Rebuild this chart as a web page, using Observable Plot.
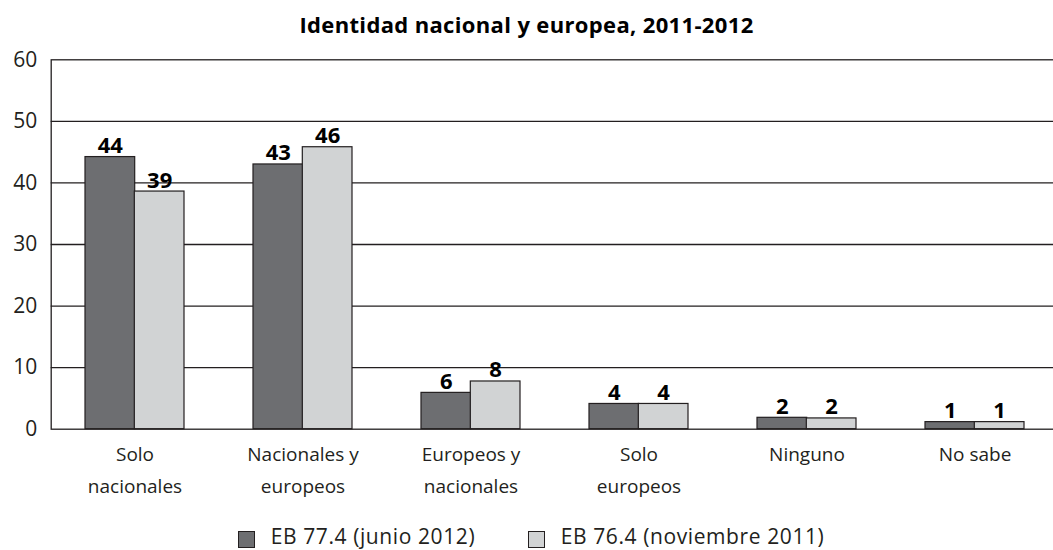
<!DOCTYPE html>
<html><head><meta charset="utf-8">
<script src="https://cdn.jsdelivr.net/npm/d3@7"></script>
<script src="https://cdn.jsdelivr.net/npm/@observablehq/plot@0.6"></script>
<style>
html,body{margin:0;padding:0;background:#fff;overflow:hidden;width:1053px;height:550px}
#title{height:40px;box-sizing:border-box;padding-top:12.5px;text-align:center;font:bold 22px/22px "Open Sans";letter-spacing:0.35px;color:#000;white-space:nowrap}
#chart svg{display:block}
#legend{position:relative;height:46px;font:21px/22px "Open Sans";letter-spacing:0.6px;color:#231f20}
.sw{position:absolute;top:26.7px;width:15px;height:15px;border:1px solid #231f20}
.lt{position:absolute;top:21px;white-space:nowrap}
</style></head>
<body>
<div id="title">Identidad nacional y europea, 2011-2012</div>
<div id="chart"></div>
<div id="legend"></div>
<script>
const categories = ["Solo\nnacionales", "Nacionales y\neuropeos", "Europeos y\nnacionales", "Solo\neuropeos", "Ninguno", "No sabe"];
const junio2012 = [44.2, 43.0, 5.9, 4.1, 1.85, 1.15];
const noviembre2011 = [38.6, 45.8, 7.75, 4.1, 1.75, 1.15];
const yTicks = [0, 10, 20, 30, 40, 50, 60];
const seriesNames = ["EB 77.4 (junio 2012)", "EB 76.4 (noviembre 2011)"];
const colors = ["#6d6e71", "#d1d3d4"];

const rows = categories.map((c, i) => ({category: c, a: junio2012[i], b: noviembre2011[i]}));

const W = 1053, H = 464, mL = 50.7, mR = -5.7, pi = 0.413, po = 0.2065;
const step = (W - mL - mR) / (categories.length - pi + 2 * po);
const bw = step * (1 - pi);
const half = bw / 2;
const fmt = d3.format(".0f");
const ink = "#231f20";

const chart = Plot.plot({
  width: W, height: H,
  marginTop: 19.3, marginBottom: 75.3, marginLeft: mL, marginRight: mR,
  x: {domain: categories, paddingInner: pi, paddingOuter: po},
  y: {domain: [0, 60]},
  style: {fontFamily: "Open Sans", color: ink, background: "white", overflow: "visible"},
  marks: [
    Plot.ruleY(yTicks.slice(1, -1), {stroke: ink, strokeWidth: 1.3}),
    Plot.barY(rows, {x: "category", y: "a", fill: colors[0], stroke: ink, strokeWidth: 1.2, insetRight: half}),
    Plot.barY(rows, {x: "category", y: "b", fill: colors[1], stroke: ink, strokeWidth: 1.2, insetLeft: half}),
    Plot.text(rows, {x: "category", y: "a", text: d => fmt(d.a), dx: -half / 2, dy: -4, lineAnchor: "bottom", fontWeight: "bold", fontSize: 22, fill: "#000"}),
    Plot.text(rows, {x: "category", y: "b", text: d => fmt(d.b), dx: half / 2, dy: -4, lineAnchor: "bottom", fontWeight: "bold", fontSize: 22, fill: "#000"}),
    Plot.axisY({ticks: yTicks, tickSize: 0, tickPadding: 14, fontSize: 21, label: null, fill: ink}),
    Plot.axisX({tickSize: 0, tickPadding: 9.5, fontSize: 19, lineHeight: 1.67, label: null, fill: ink}),
    Plot.frame({stroke: ink, strokeWidth: 1.3})
  ]
});
document.getElementById("chart").appendChild(chart);

const legend = document.getElementById("legend");
const lefts = [238.3, 528.3];
seriesNames.forEach((name, i) => {
  const sw = document.createElement("div");
  sw.className = "sw";
  sw.style.left = lefts[i] + "px";
  sw.style.background = colors[i];
  legend.appendChild(sw);
  const t = document.createElement("div");
  t.className = "lt";
  t.style.left = (lefts[i] + 32.4) + "px";
  t.textContent = name;
  legend.appendChild(t);
});
</script>
</body></html>
